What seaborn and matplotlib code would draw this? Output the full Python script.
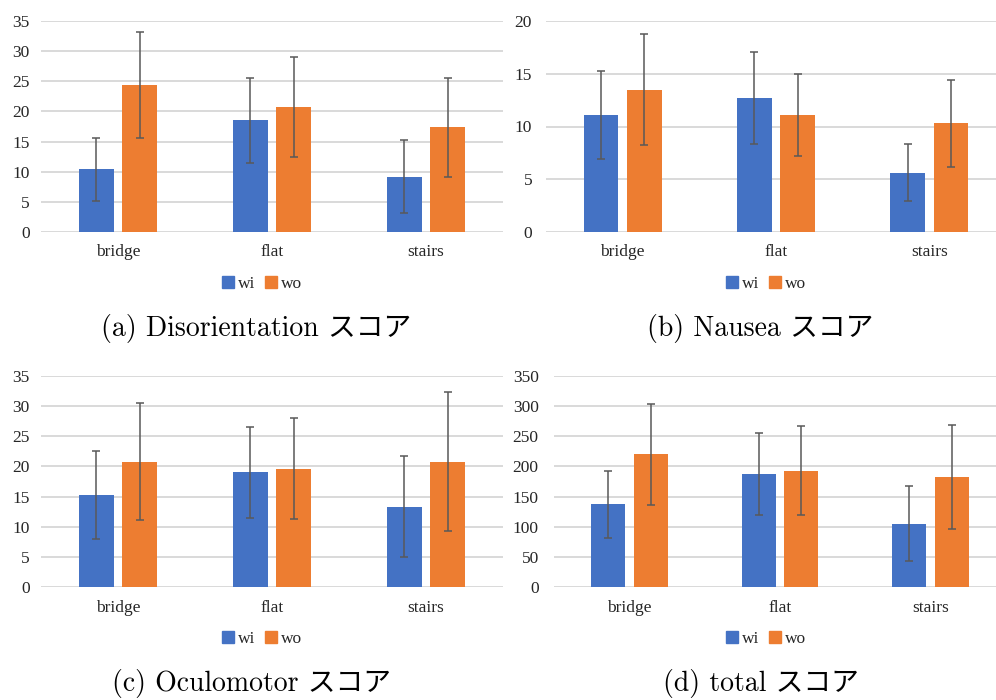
import matplotlib
matplotlib.use("Agg")
import matplotlib.pyplot as plt
import seaborn as sns
import pandas as pd
from matplotlib.patches import Patch
from matplotlib.container import BarContainer

sns.set_theme(style="white")
plt.rcParams['font.family'] = ['Liberation Serif', 'DejaVu Serif']

categories = ["bridge", "flat", "stairs"]
groups = ["wi", "wo"]

dis_wi = [10.4, 18.5, 9.2]
dis_wo = [24.4, 20.8, 17.4]
dis_wi_sd = [5.2, 7.1, 6.0]
dis_wo_sd = [8.8, 8.3, 8.2]

nau_wi = [11.1, 12.7, 5.6]
nau_wo = [13.5, 11.1, 10.3]
nau_wi_sd = [4.2, 4.4, 2.7]
nau_wo_sd = [5.3, 3.9, 4.1]

ocu_wi = [15.2, 19.0, 13.3]
ocu_wo = [20.8, 19.6, 20.8]
ocu_wi_sd = [7.3, 7.6, 8.4]
ocu_wo_sd = [9.7, 8.4, 11.5]

tot_wi = [137, 188, 105]
tot_wo = [220, 193, 182]
tot_wi_sd = [55.5, 68, 62]
tot_wo_sd = [84, 74, 86]

captions = ["(a) Disorientation スコア", "(b) Nausea スコア",
            "(c) Oculomotor スコア", "(d) total スコア"]
yticks_list = [list(range(0, 36, 5)), list(range(0, 21, 5)),
               list(range(0, 36, 5)), list(range(0, 351, 50))]

panels = [
    (dis_wi, dis_wo, dis_wi_sd, dis_wo_sd),
    (nau_wi, nau_wo, nau_wi_sd, nau_wo_sd),
    (ocu_wi, ocu_wo, ocu_wi_sd, ocu_wo_sd),
    (tot_wi, tot_wo, tot_wi_sd, tot_wo_sd),
]

BLUE = "#4472C4"
ORANGE = "#ED7D31"
GRID = "#D0D0D0"
ERR = "#595959"

W, H = 996, 700
fig = plt.figure(figsize=(W / 100, H / 100), dpi=100)

# pixel boxes: left, right, top, bottom
boxes = [(41, 503, 21, 232), (546, 1006, 21, 232),
         (41, 503, 376, 587), (554, 1006, 376, 587)]
tick_pads = [8, 10, 8, 11]
leg_centers = [(262, 284), (766, 284), (262, 639), (766, 639)]
cap_centers = [(256, 328), (760, 328), (251, 684), (761, 684)]

for i, (wi, wo, wi_sd, wo_sd) in enumerate(panels):
    l, r, t, b = boxes[i]
    ax = fig.add_axes([l / W, 1 - b / H, (r - l) / W, (b - t) / H])
    df = pd.DataFrame({
        "cond": categories * 2,
        "group": ["wi"] * 3 + ["wo"] * 3,
        "value": list(wi) + list(wo),
    })
    sns.barplot(data=df, x="cond", y="value", hue="group",
                palette=[BLUE, ORANGE], width=0.565, gap=0.2,
                errorbar=None, ax=ax, legend=False, saturation=1,
                linewidth=0)
    sds = [wi_sd, wo_sd]
    bar_conts = [c for c in ax.containers if isinstance(c, BarContainer)]
    for ci, cont in enumerate(bar_conts):
        xs = [p.get_x() + p.get_width() / 2 for p in cont.patches]
        hs = [p.get_height() for p in cont.patches]
        ax.errorbar(xs, hs, yerr=sds[ci], fmt="none", ecolor=ERR,
                    elinewidth=1.1, capsize=3, capthick=1.1, zorder=5)
    yt = yticks_list[i]
    ax.set_ylim(0, yt[-1])
    ax.set_xlim(-0.5, 2.5)
    ax.set_yticks(yt)
    ax.set_yticklabels([str(v) for v in yt])
    ax.yaxis.grid(True, color=GRID, linewidth=1.1)
    ax.set_axisbelow(True)
    for s in ax.spines.values():
        s.set_visible(False)
    ax.tick_params(axis="y", length=0, pad=tick_pads[i], labelsize=12.5,
                   labelcolor="#262626")
    ax.tick_params(axis="x", length=0, pad=9, labelsize=12.5,
                   labelcolor="#262626")
    ax.set_xlabel("")
    ax.set_ylabel("")

    handles = [Patch(color=BLUE, label="wi"), Patch(color=ORANGE, label="wo")]
    lx, ly = leg_centers[i]
    fig.legend(handles=handles, loc="center", bbox_to_anchor=(lx / W, 1 - ly / H),
               ncol=2, frameon=False, fontsize=12.5, handlelength=0.7,
               handleheight=0.7, handletextpad=0.2, columnspacing=0.6,
               labelcolor="#262626")
    cx, cy = cap_centers[i]
    fig.text(cx / W, 1 - cy / H, captions[i], ha="center", va="center",
             fontsize=20, family=["cmr10", "Noto Sans CJK JP"], color="black")

fig.savefig("out.png", dpi=100)
